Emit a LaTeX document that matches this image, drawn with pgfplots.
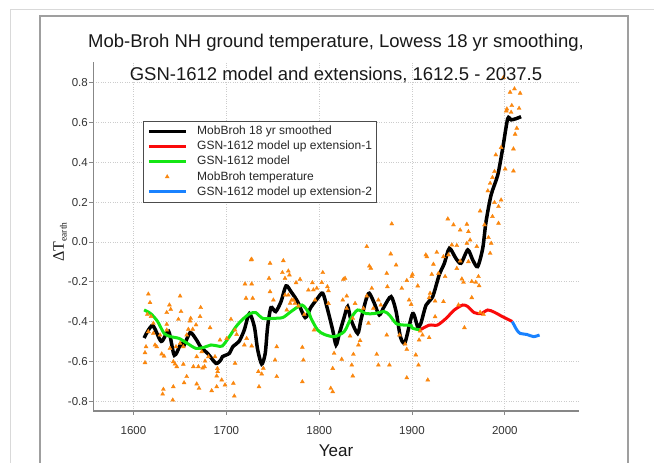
\documentclass[border=0pt]{standalone}
\usepackage{pgfplots}
\pgfplotsset{compat=1.18}
\usepackage{fontspec}
\setmainfont{Liberation Sans}
\newfontfamily\seriffont{Liberation Serif}
\definecolor{orangeT}{RGB}{250,135,15}
\definecolor{greenL}{RGB}{20,230,20}
\definecolor{blueL}{RGB}{25,130,255}
\definecolor{redL}{RGB}{250,10,10}
\definecolor{axgray}{RGB}{135,135,135}

\pgfplotstableread{
x y
1616.0 -0.262
1617.8 -0.305
1650.2 -0.272
1638.7 -0.317
1640.1 -0.339
1672.4 -0.330
1614.9 -0.364
1635.8 -0.355
1651.2 -0.350
1618.9 -0.375
1648.4 -0.389
1661.6 -0.384
1671.7 -0.375
1660.9 -0.397
1667.4 -0.417
1682.5 -0.431
1659.1 -0.439
1657.3 -0.468
1663.8 -0.439
1616.0 -0.451
1621.4 -0.459
1628.6 -0.468
1635.8 -0.414
1613.5 -0.527
1612.4 -0.557
1623.2 -0.518
1625.0 -0.527
1630.4 -0.563
1632.9 -0.574
1639.3 -0.535
1645.8 -0.527
1653.7 -0.527
1642.9 -0.602
1644.7 -0.614
1646.6 -0.627
1653.7 -0.615
1612.4 -0.607
1668.1 -0.577
1677.1 -0.599
1676.5 -0.627
1674.5 -0.634
1680.7 -0.577
1687.8 -0.577
1690.4 -0.636
1689.6 -0.674
1657.3 -0.677
1654.5 -0.708
1668.1 -0.714
1670.6 -0.736
1632.2 -0.741
1631.4 -0.765
1642.9 -0.728
1642.3 -0.795
1684.2 -0.748
1689.6 -0.728
1650.2 -0.510
1635.8 -0.443
1621.4 -0.409
1664.5 -0.627
1669.9 -0.627
1673.5 -0.552
1726.6 -0.090
1727.3 -0.087
1747.1 -0.107
1761.4 -0.094
1760.4 -0.154
1766.8 -0.146
1746.0 -0.183
1720.1 -0.211
1727.3 -0.211
1763.2 -0.183
1775.1 -0.205
1779.4 -0.188
1792.7 -0.205
1788.4 -0.242
1747.1 -0.250
1721.2 -0.283
1728.4 -0.283
1750.7 -0.292
1770.4 -0.292
1774.0 -0.308
1777.6 -0.322
1784.1 -0.364
1766.8 -0.267
1705.0 -0.389
1709.4 -0.443
1711.1 -0.465
1693.2 -0.493
1700.4 -0.485
1721.9 -0.485
1719.4 -0.518
1727.3 -0.523
1754.3 -0.527
1781.9 -0.530
1709.4 -0.610
1690.7 -0.652
1695.0 -0.694
1698.6 -0.719
1707.6 -0.711
1734.5 -0.652
1738.1 -0.664
1739.9 -0.635
1752.5 -0.594
1783.0 -0.594
1754.3 -0.677
1781.9 -0.703
1735.2 -0.728
1708.6 -0.775
1768.0 -0.166
1772.3 -0.292
1768.7 -0.308
1763.3 -0.267
1765.1 -0.342
1878.2 0.091
1851.3 -0.023
1877.1 -0.060
1854.1 -0.121
1855.6 -0.132
1882.9 -0.116
1872.8 -0.158
1803.9 -0.154
1827.9 -0.183
1826.1 -0.188
1802.8 -0.204
1797.4 -0.233
1808.9 -0.225
1810.0 -0.245
1793.8 -0.241
1856.7 -0.233
1873.5 -0.225
1889.0 -0.233
1894.4 -0.194
1829.7 -0.272
1851.3 -0.272
1863.8 -0.292
1866.4 -0.317
1810.0 -0.309
1795.6 -0.292
1825.4 -0.292
1838.7 -0.309
1829.7 -0.334
1847.7 -0.334
1858.4 -0.334
1853.1 -0.409
1836.2 -0.384
1794.5 -0.443
1833.3 -0.473
1844.1 -0.496
1842.3 -0.518
1872.8 -0.468
1886.5 -0.468
1892.6 -0.513
1894.4 -0.540
1816.1 -0.560
1836.9 -0.565
1824.3 -0.590
1862.0 -0.565
1835.1 -0.619
1863.8 -0.619
1875.7 -0.619
1814.6 -0.636
1836.2 -0.674
1812.5 -0.736
1814.6 -0.753
1998.6 0.827
2010.4 0.770
2005.7 0.753
2016.5 0.748
2002.2 0.669
2007.5 0.686
2015.4 0.672
2006.8 0.652
2001.6 0.659
2012.9 0.572
2011.1 0.542
2009.3 0.468
1996.0 0.475
1990.3 0.438
2000.4 0.367
2009.3 0.357
1988.9 0.354
1986.7 0.324
1984.2 0.295
1981.7 0.257
1996.0 0.211
1988.9 0.198
1973.4 0.156
1993.2 0.178
1986.7 0.128
1978.1 0.086
1993.2 0.094
1938.6 0.116
1944.7 0.086
1959.1 0.089
1951.9 0.060
1960.8 0.052
1982.4 0.022
1962.6 0.010
1959.1 -0.007
1985.3 -0.007
1942.9 -0.015
1948.3 -0.018
1969.8 -0.023
1984.2 -0.057
1926.7 -0.052
1914.9 -0.065
1916.0 -0.074
1939.3 -0.065
1933.9 -0.074
1923.1 -0.112
1921.3 -0.163
1928.5 -0.158
1935.7 -0.174
1951.9 -0.096
1948.3 -0.133
1960.8 -0.099
1953.7 -0.186
1955.5 -0.203
1964.4 -0.199
1968.7 -0.203
1971.6 -0.174
1972.3 -0.220
1906.2 -0.221
1900.5 -0.163
1899.8 -0.174
1919.5 -0.258
1918.5 -0.280
1924.9 -0.297
1896.9 -0.292
1899.1 -0.314
1933.9 -0.300
1964.4 -0.280
1950.1 -0.317
1973.4 -0.354
1977.0 -0.364
1924.9 -0.376
1956.5 -0.431
1904.1 -0.568
1907.0 -0.619
1894.4 -0.683
1917.0 -0.694
1907.7 -0.493
1911.3 -0.468
1908.8 -0.448
1918.5 -0.481
}\tempdata

\pgfplotstableread{
x y
1611.4 -0.483
1620.5 -0.420
1629.9 -0.500
1637.9 -0.450
1644.0 -0.570
1651.2 -0.510
1654.4 -0.520
1661.0 -0.456
1667.5 -0.490
1672.7 -0.530
1679.8 -0.560
1688.8 -0.610
1693.9 -0.594
1695.8 -0.577
1703.3 -0.560
1706.9 -0.527
1713.7 -0.500
1719.3 -0.443
1724.8 -0.360
1730.2 -0.426
1733.7 -0.540
1738.1 -0.614
1741.9 -0.560
1744.5 -0.426
1748.1 -0.330
1753.2 -0.350
1758.9 -0.300
1764.3 -0.221
1769.7 -0.250
1776.8 -0.300
1785.0 -0.380
1790.9 -0.330
1798.4 -0.283
1803.9 -0.258
1809.2 -0.342
1814.6 -0.443
1818.2 -0.518
1821.8 -0.460
1827.1 -0.376
1830.7 -0.325
1834.2 -0.390
1841.5 -0.460
1845.1 -0.390
1850.5 -0.290
1854.0 -0.258
1859.4 -0.308
1864.8 -0.367
1870.0 -0.325
1877.5 -0.275
1882.9 -0.350
1887.5 -0.476
1892.5 -0.505
1900.7 -0.360
1906.1 -0.426
1909.5 -0.410
1915.2 -0.317
1922.3 -0.275
1929.3 -0.166
1934.9 -0.107
1940.3 -0.032
1947.2 -0.082
1952.8 -0.107
1960.1 -0.040
1965.4 -0.090
1970.7 -0.124
1976.2 -0.032
1979.7 0.100
1985.2 0.236
1992.4 0.337
1997.7 0.470
2003.1 0.620
2006.8 0.614
2012.1 0.620
2017.5 0.630
}\smoothdata

\pgfplotstableread{
x y
1611.4 -0.342
1618.5 -0.360
1626.0 -0.400
1633.0 -0.460
1640.1 -0.476
1649.1 -0.485
1658.0 -0.510
1667.2 -0.535
1675.9 -0.530
1683.5 -0.518
1690.6 -0.523
1695.8 -0.523
1703.3 -0.476
1710.4 -0.426
1717.4 -0.390
1724.8 -0.362
1731.6 -0.355
1739.1 -0.384
1749.9 -0.384
1760.8 -0.380
1769.7 -0.350
1781.5 -0.317
1789.4 -0.360
1791.2 -0.384
1798.4 -0.443
1805.6 -0.465
1816.4 -0.476
1827.1 -0.450
1834.2 -0.384
1841.5 -0.342
1850.5 -0.360
1859.4 -0.360
1870.0 -0.350
1875.6 -0.367
1882.9 -0.410
1891.6 -0.418
1899.0 -0.420
1900.7 -0.434
1909.5 -0.443
}\modeldata

\pgfplotstableread{
x y
1909.5 -0.440
1918.7 -0.418
1927.4 -0.418
1936.8 -0.384
1945.6 -0.342
1954.7 -0.317
1960.1 -0.325
1966.9 -0.355
1974.5 -0.360
1981.6 -0.342
1988.6 -0.353
1997.7 -0.376
2008.0 -0.400
}\extonedata

\pgfplotstableread{
x y
2008.0 -0.400
2013.0 -0.443
2016.6 -0.460
2023.7 -0.465
2030.9 -0.476
2037.4 -0.468
}\exttwodata

\begin{document}
\begin{tikzpicture}
\useasboundingbox (0pt,0pt) rectangle (654pt,463pt);
\draw[gray!30, line width=0.8pt] (10pt,-2pt) -- (10pt,454pt) -- (656pt,454pt);
\draw[gray!75, line width=1.3pt] (40pt,-2pt) -- (40pt,447pt) -- (628pt,447pt) -- (628pt,-2pt);
\begin{axis}[
  at={(93.3pt,52pt)}, anchor=south west,
  scale only axis, width=485.5pt, height=349pt,
  xmin=1556.7, xmax=2079.7, ymin=-0.85, ymax=0.905,
  axis x line*=bottom, axis y line*=left,
  axis line style={-, draw=axgray, line width=1.2pt},
  xtick={1600,1700,1800,1900,2000},
  ytick={-0.8,-0.6,-0.4,-0.2,0,0.2,0.4,0.6,0.8},
  grid=major,
  major grid style={dotted, gray!40, line width=0.9pt},
  tick align=outside, major tick length=4pt,
  tick style={draw=axgray, line width=0.8pt},
  /pgf/number format/assume math mode=true,
  tick label style={font=\fontsize{11.5}{13}\selectfont, text=black!80},
  xticklabel style={/pgf/number format/1000 sep={}, yshift=-8pt},
  yticklabel style={/pgf/number format/.cd, fixed, fixed zerofill, precision=1, /tikz/.cd, xshift=2pt},
  legend cell align=left,
  legend image code/.code={\draw[mark repeat=2,mark phase=2,#1] plot coordinates {(0pt,0pt) (18.35pt,0pt) (36.7pt,0pt)};},
  legend style={at={(0.103,0.831)}, anchor=north west, draw=black!70, line width=0.8pt,
    font=\fontsize{12}{14}\selectfont, text=black!85, inner xsep=3.4pt, inner ysep=2.6pt,
    nodes={text height=10pt, text depth=3.5pt, inner ysep=0.8pt, inner xsep=1.5pt},
    /tikz/every odd column/.append style={column sep=8.4pt}},
]
\addplot[only marks, mark=triangle*, mark size=2.3pt, color=orangeT, forget plot] table[x=x,y=y] {\tempdata};
\addplot[black, line width=3.5pt, smooth, tension=0.45] table[x=x,y=y] {\smoothdata};
\addlegendentry{MobBroh 18 yr smoothed}
\addplot[redL, line width=3pt, smooth, tension=0.45] table[x=x,y=y] {\extonedata};
\addlegendentry{GSN-1612 model up extension-1}
\addplot[greenL, line width=3pt, smooth, tension=0.45] table[x=x,y=y] {\modeldata};
\addlegendentry{GSN-1612 model}
\addlegendimage{only marks, mark=triangle*, mark size=1.9pt, color=orangeT}
\addlegendentry{MobBroh temperature}
\addplot[blueL, line width=3pt, smooth, tension=0.45] table[x=x,y=y] {\exttwodata};
\addlegendentry{GSN-1612 model up extension-2}
\end{axis}
\node[anchor=base, font=\fontsize{18.5}{22}\selectfont, text=black!90] at (336pt,415.5pt) {Mob-Broh NH ground temperature, Lowess 18 yr smoothing,};
\node[anchor=base, font=\fontsize{18.5}{22}\selectfont, text=black!90] at (336pt,382.5pt) {GSN-1612 model and extensions, 1612.5 - 2037.5};
\node[anchor=base, font=\fontsize{17}{20}\selectfont, text=black!90] at (336pt,6pt) {Year};
\node[rotate=90, anchor=center, text=black!90] at (60pt,221pt) {\seriffont\fontsize{16}{18}\selectfont ΔT\raisebox{-0.35ex}{\fontsize{9.5}{11}\selectfont earth}};
\end{tikzpicture}
\end{document}
